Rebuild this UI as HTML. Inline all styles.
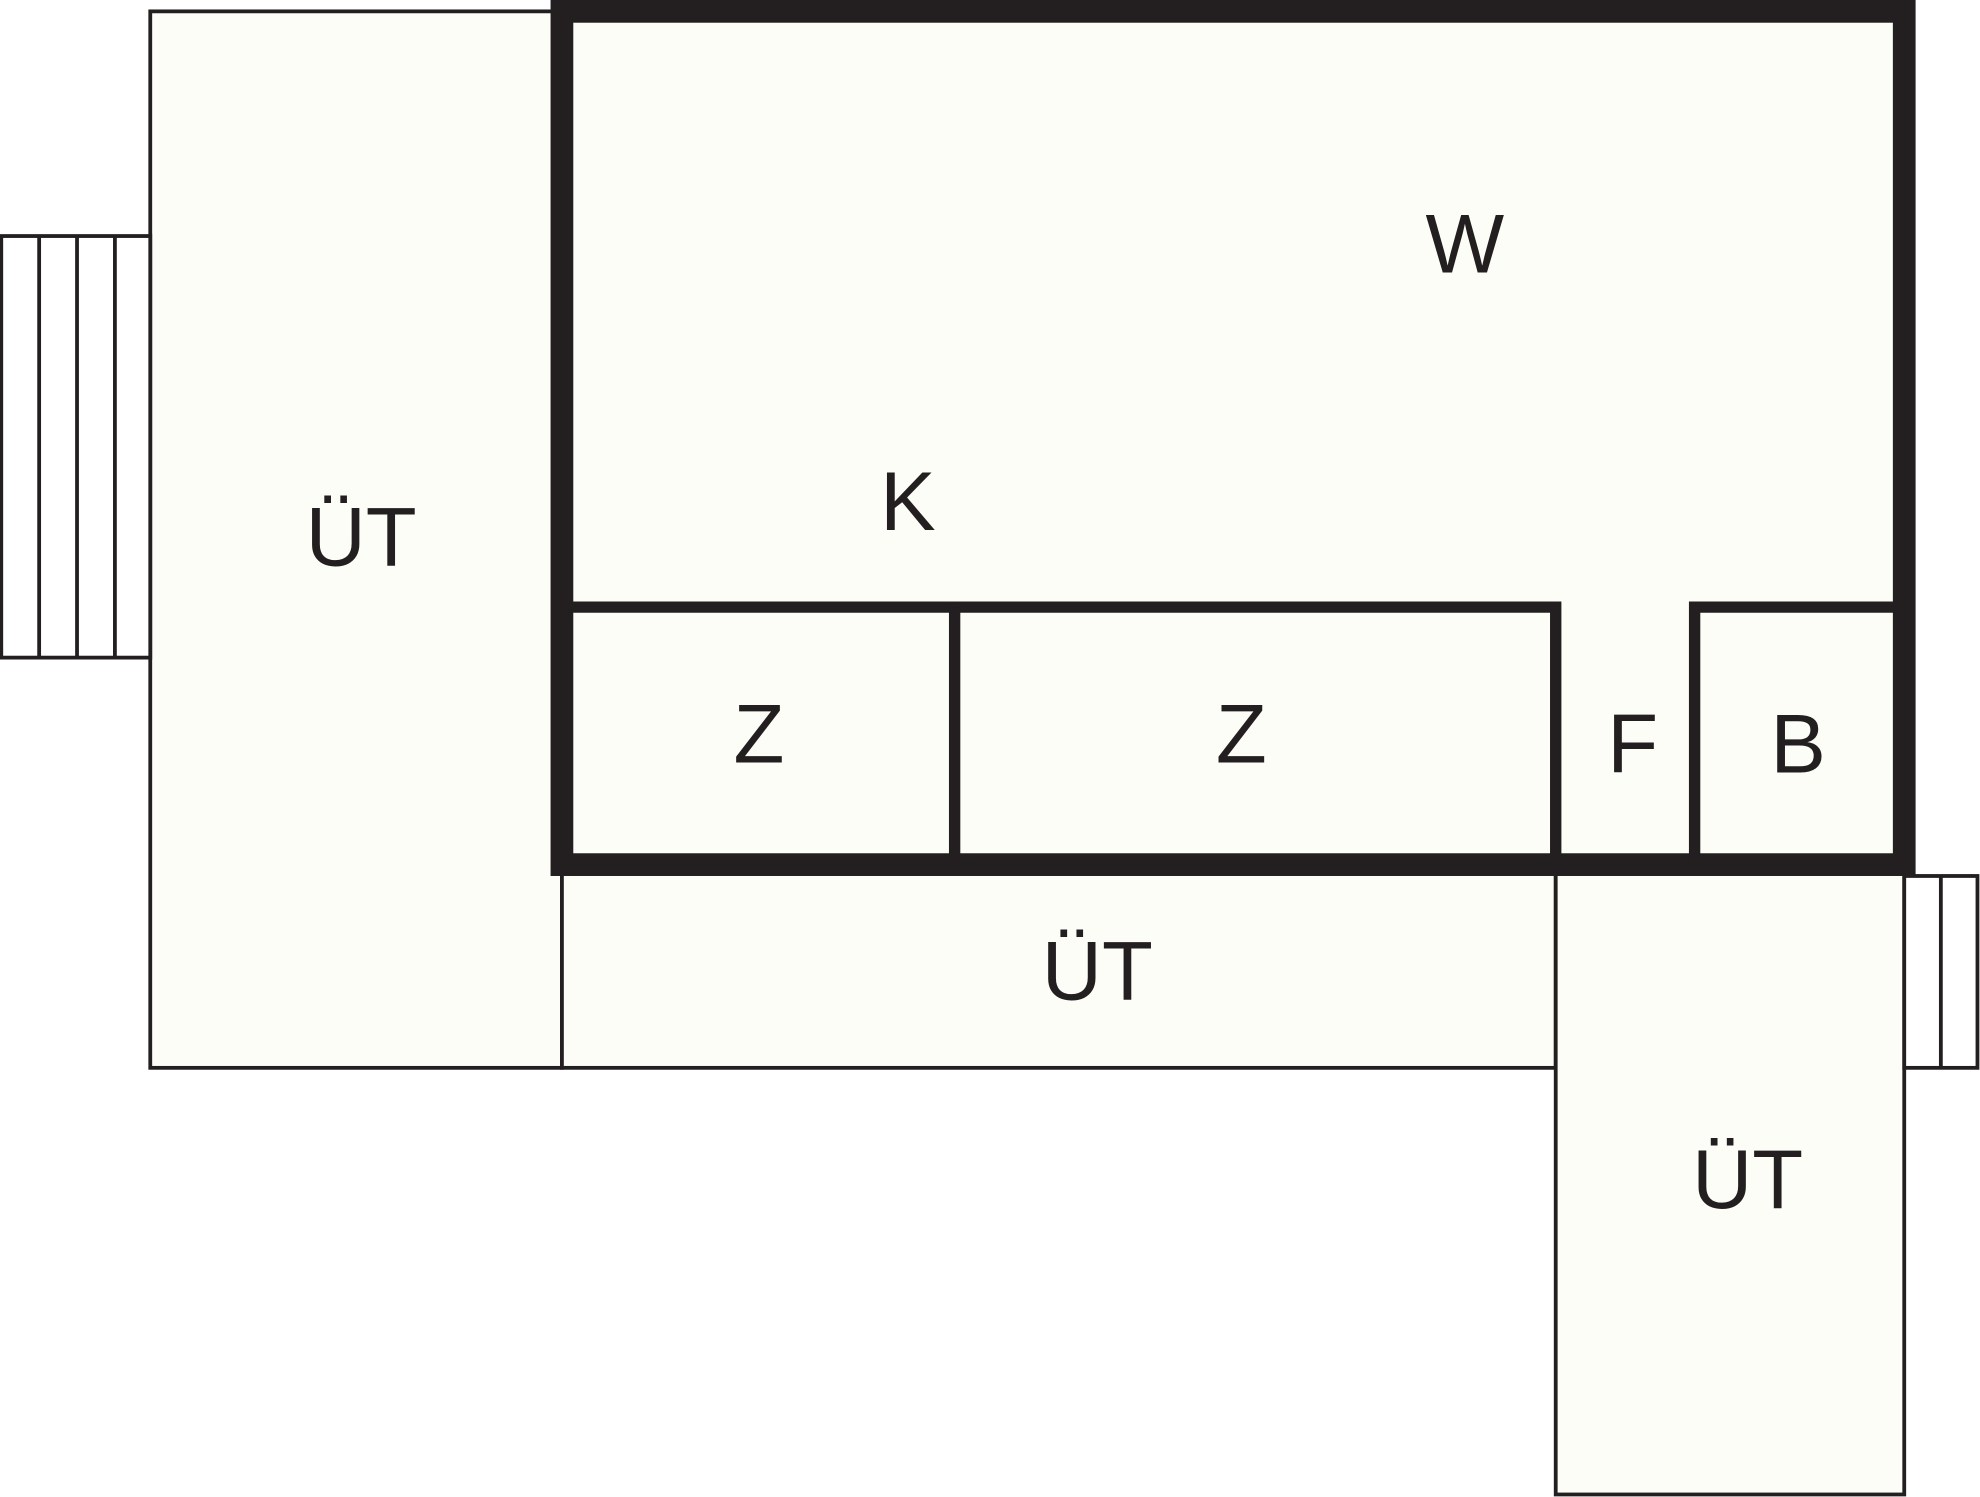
<!DOCTYPE html>
<html><head><meta charset="utf-8"><style>
html,body{margin:0;padding:0;background:#fff;}
svg{display:block;}
text{font-family:"Liberation Sans",sans-serif;font-size:66px;fill:#231f20;text-anchor:middle;}
</style></head><body>
<svg width="1980" height="1497" viewBox="0 0 1568 1186" preserveAspectRatio="none" xmlns="http://www.w3.org/2000/svg">
<g fill="#fdfdf7" stroke="#231f20" stroke-width="3">
<rect x="119" y="9" width="326" height="837"/>
<rect x="445" y="690" width="787" height="156"/>
<rect x="1232" y="690" width="276" height="494"/>
<rect x="1" y="187" width="118" height="334" fill="#fff"/>
<line x1="31" y1="187" x2="31" y2="521"/>
<line x1="61" y1="187" x2="61" y2="521"/>
<line x1="91" y1="187" x2="91" y2="521"/>
<rect x="1508" y="694" width="58" height="152" fill="#fff"/>
<line x1="1537" y1="694" x2="1537" y2="846"/>
</g>
<rect x="445" y="9" width="1063" height="676" fill="#fdfdf7" stroke="#231f20" stroke-width="18"/>
<g stroke="#231f20" stroke-width="9" fill="none">
<polyline points="449,481 1232,481 1232,685"/>
<line x1="756" y1="481" x2="756" y2="685"/>
<polyline points="1342,685 1342,481 1504,481"/>
</g>
<text x="286" y="448">ÜT</text>
<text x="1160" y="216">W</text>
<text x="719" y="420">K</text>
<text x="601" y="604">Z</text>
<text x="983" y="604">Z</text>
<text x="1293" y="612">F</text>
<text x="1424" y="612">B</text>
<text x="869" y="792">ÜT</text>
<text x="1384" y="957">ÜT</text>
</g>
</svg>
</body></html>
